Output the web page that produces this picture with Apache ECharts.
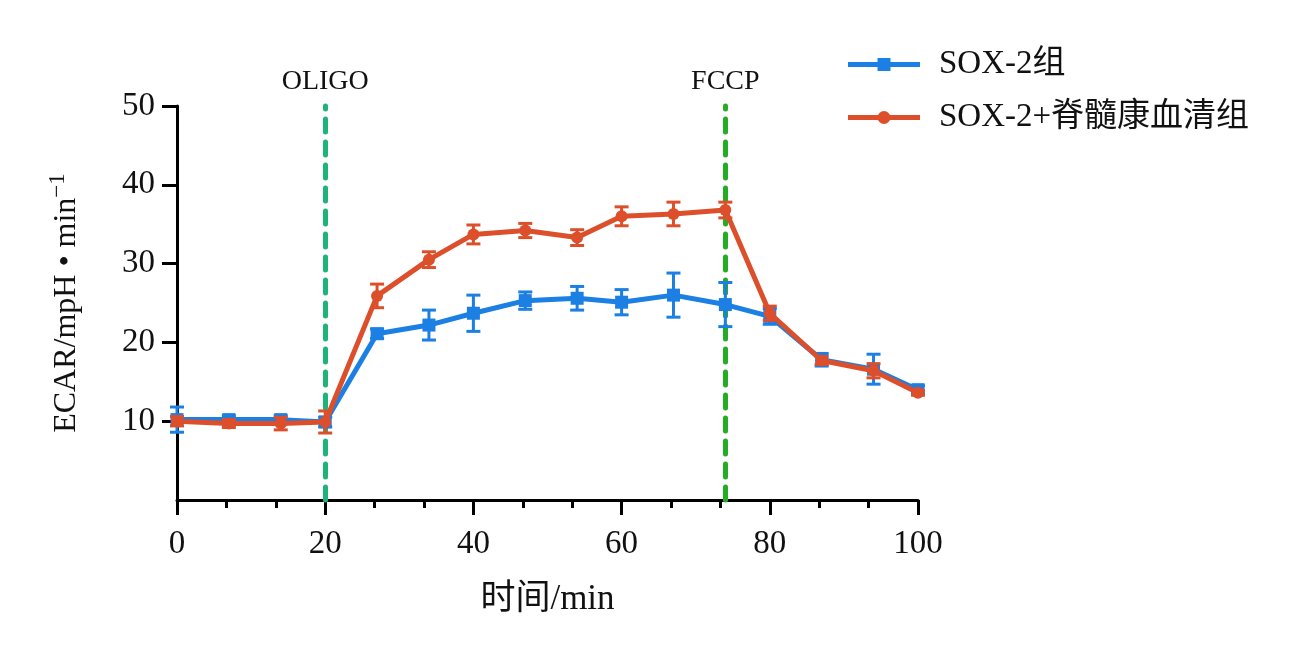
<!DOCTYPE html>
<html>
<head>
<meta charset="utf-8">
<script src="https://cdn.jsdelivr.net/npm/echarts@6/dist/echarts.min.js"></script>
<style>html,body{margin:0;padding:0;background:#fff}#c{width:1314px;height:659px}</style>
</head>
<body>
<div id="c"></div>
<script>
var times = [0, 7, 14, 20, 27, 34, 40, 47, 54, 60, 67, 74, 80, 87, 94, 100];
var sox2Mean = [10.2, 10.2, 10.2, 9.9, 21.1, 22.2, 23.7, 25.3, 25.6, 25.1, 26.0, 24.8, 23.3, 17.8, 16.6, 14.0];
var sox2Err  = [1.6, 0.5, 0.5, 0.6, 0.6, 1.9, 2.3, 1.1, 1.5, 1.6, 2.8, 2.8, 1.0, 0.8, 1.9, 0.5];
var combMean = [10.0, 9.7, 9.7, 9.9, 25.9, 30.5, 33.7, 34.2, 33.3, 36.0, 36.3, 36.8, 23.7, 17.7, 16.4, 13.6];
var combErr  = [0.6, 0.5, 0.8, 1.4, 1.5, 1.0, 1.2, 0.9, 1.0, 1.2, 1.5, 1.0, 0.9, 0.5, 0.9, 0.3];
var seriesNames = ['SOX-2组', 'SOX-2+脊髓康血清组'];
var events = [{x: 20, name: 'OLIGO'}, {x: 74, name: 'FCCP'}];
var yTicks = [10, 20, 30, 40, 50];

var FONT = "'Liberation Serif', 'Noto Sans CJK SC', serif";
var BLUE = '#1b7fe4';
var RED = '#dd4f2b';
var ICON_SQUARE = 'path://M0,4.5H72V9.5H0Z M29.5,0.5H42.5V13.5H29.5Z';
var ICON_CIRCLE = 'path://M0,4.5H72V9.5H0Z M29.5,7A6.5,6.5 0 1 1 42.5,7A6.5,6.5 0 1 1 29.5,7Z';

function pairs(mean) { return times.map(function (t, i) { return [t, mean[i]]; }); }
function errData(mean, err) { return times.map(function (t, i) { return [t, mean[i] - err[i], mean[i] + err[i]]; }); }
function errSeries(mean, err, color, z) {
  return {
    type: 'custom', z: z, silent: true,
    data: errData(mean, err),
    encode: {x: 0, y: [1, 2]},
    renderItem: function (params, api) {
      var lo = api.coord([api.value(0), api.value(1)]);
      var hi = api.coord([api.value(0), api.value(2)]);
      var hw = 7;
      var st = {stroke: color, lineWidth: 3};
      return {type: 'group', children: [
        {type: 'line', shape: {x1: lo[0], y1: lo[1], x2: hi[0], y2: hi[1]}, style: st},
        {type: 'line', shape: {x1: lo[0] - hw, y1: lo[1], x2: lo[0] + hw, y2: lo[1]}, style: st},
        {type: 'line', shape: {x1: hi[0] - hw, y1: hi[1], x2: hi[0] + hw, y2: hi[1]}, style: st}
      ]};
    }
  };
}

var chart = echarts.init(document.getElementById('c'), null, {renderer: 'canvas'});
chart.setOption({
  backgroundColor: '#fff',
  animation: false,
  textStyle: {fontFamily: FONT},
  grid: {left: 177, right: 396, top: 106, bottom: 159, containLabel: false},
  legend: {
    left: 843, top: 43, orient: 'vertical', itemGap: 20,
    itemWidth: 72, itemHeight: 13,
    textStyle: {fontSize: 33, color: '#111', fontFamily: FONT, padding: [0, 0, 0, 14]},
    data: [
      {name: seriesNames[0], icon: ICON_SQUARE, itemStyle: {color: BLUE}},
      {name: seriesNames[1], icon: ICON_CIRCLE, itemStyle: {color: RED}}
    ]
  },
  xAxis: {
    type: 'value', min: 0, max: 100, interval: 20,
    name: '时间/min', nameLocation: 'middle', nameGap: 82,
    nameTextStyle: {fontSize: 35, color: '#111', fontFamily: FONT},
    axisLine: {show: true, lineStyle: {color: '#000', width: 3}},
    axisTick: {show: true, length: 15, inside: false, lineStyle: {color: '#000', width: 3}},
    minorTick: {show: true, splitNumber: 3, length: 8, lineStyle: {color: '#000', width: 3}},
    axisLabel: {fontSize: 33, color: '#111', margin: 28, fontFamily: FONT},
    splitLine: {show: false}
  },
  yAxis: {
    type: 'value', min: 0, max: 50, interval: 10,
    name: '{a|ECAR/mpH • min}{s|−1}', nameLocation: 'middle', nameGap: 90, nameRotate: 90,
    nameTextStyle: {
      fontSize: 32, color: '#111', fontFamily: FONT,
      rich: {a: {fontSize: 32, fontFamily: FONT, color: '#111'}, s: {fontSize: 23, fontFamily: FONT, color: '#111', verticalAlign: 'top', padding: [0, 0, 18, 0]}}
    },
    axisLine: {show: true, lineStyle: {color: '#000', width: 3}},
    axisTick: {show: true, length: 15, customValues: yTicks, lineStyle: {color: '#000', width: 3}},
    axisLabel: {fontSize: 33, color: '#111', margin: 22, fontFamily: FONT, customValues: yTicks},
    splitLine: {show: false}
  },
  series: [
    errSeries(sox2Mean, sox2Err, BLUE, 3),
    {
      name: seriesNames[0], type: 'line', z: 4, data: pairs(sox2Mean),
      symbol: 'rect', symbolSize: 13, showAllSymbol: true,
      lineStyle: {color: BLUE, width: 5}, itemStyle: {color: BLUE},
      markLine: {
        silent: true, symbol: 'none', z: 2,
        label: {show: true, position: 'end', formatter: '{b}', fontSize: 28, color: '#111', fontFamily: FONT, distance: 10},
        lineStyle: {width: 5, type: [13, 10], cap: 'round'},
        data: [
          {name: events[0].name, xAxis: events[0].x, lineStyle: {color: '#1db47a'}},
          {name: events[1].name, xAxis: events[1].x, lineStyle: {color: '#22ad22'}}
        ]
      }
    },
    errSeries(combMean, combErr, RED, 5),
    {
      name: seriesNames[1], type: 'line', z: 6, data: pairs(combMean),
      symbol: 'circle', symbolSize: 12, showAllSymbol: true,
      lineStyle: {color: RED, width: 5}, itemStyle: {color: RED}
    }
  ]
});
</script>
</body>
</html>
